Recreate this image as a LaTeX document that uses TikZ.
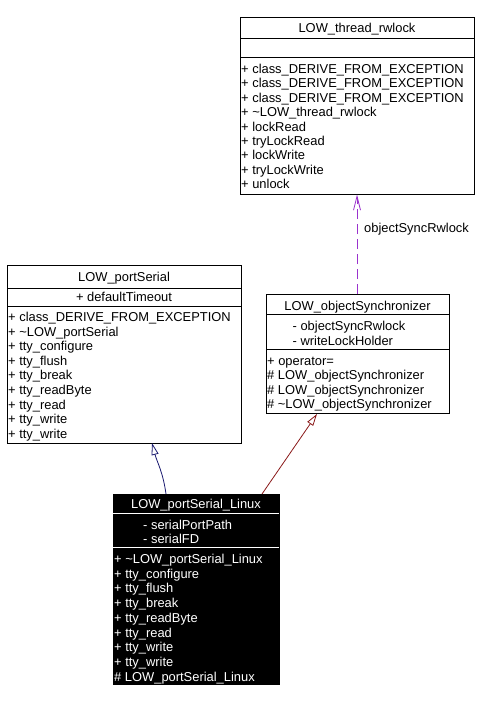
\documentclass[tikz,border=0pt]{standalone}
\usepackage{fontspec}
\setmainfont{Liberation Sans}
\usetikzlibrary{arrows.meta}
\definecolor{midnightblue}{HTML}{191970}
\definecolor{firebrick}{HTML}{8B1A1A}
\definecolor{orchid}{HTML}{9A32CD}
\tikzset{
  x=1pt, y=-1pt,
  classbox/.style={draw=black, line width=1pt, fill=white, inner sep=0pt, anchor=north west},
  darkbox/.style={draw=black, line width=1pt, fill=black, inner sep=0pt, anchor=north west},
  txt/.style={inner sep=0pt, font=\fontsize{12.9}{14.5}\selectfont, anchor=base west},
  ctxt/.style={inner sep=0pt, font=\fontsize{12.9}{14.5}\selectfont, anchor=base},
  wtxt/.style={txt, text=white},
  wctxt/.style={ctxt, text=white},
  sep/.style={line width=1pt},
  wsep/.style={line width=1pt, draw=white},
  inh/.style={line width=0.8pt, -{Triangle[open, length=12pt, width=7pt]}},
  use/.style={line width=0.8pt, dash pattern=on 10pt off 5pt, draw=orchid, -{Straight Barb[length=14pt, width=7pt]}},
}
\begin{document}
\begin{tikzpicture}
\useasboundingbox[fill=white] (0,0) rectangle (484,702);

% ---------- LOW_thread_rwlock ----------
\node[classbox, minimum width=234pt, minimum height=177pt] (rw) at (240,17) {};
\draw[sep] (240,38) -- (474,38);
\draw[sep] (240,57) -- (474,57);
\node[ctxt] (rwt) at (357,32) {LOW\_thread\_rwlock};
\foreach \t [count=\i from 0] in {+ class\_DERIVE\_FROM\_EXCEPTION,+ class\_DERIVE\_FROM\_EXCEPTION,+ class\_DERIVE\_FROM\_EXCEPTION,+ \textasciitilde LOW\_thread\_rwlock,+ lockRead,+ tryLockRead,+ lockWrite,+ tryLockWrite,+ unlock}
  \node[txt] (rwm\i) at (241,73.5+14.4*\i) {\t};

% ---------- LOW_portSerial ----------
\node[classbox, minimum width=234pt, minimum height=178pt] (ps) at (7,265) {};
\draw[sep] (7,288) -- (241,288);
\draw[sep] (7,306) -- (241,306);
\node[ctxt] (pst) at (124,281) {LOW\_portSerial};
\node[ctxt] (psa) at (124,301.5) {+ defaultTimeout};
\foreach \t [count=\i from 0] in {+ class\_DERIVE\_FROM\_EXCEPTION,+ \textasciitilde LOW\_portSerial,+ tty\_configure,+ tty\_flush,+ tty\_break,+ tty\_readByte,+ tty\_read,+ tty\_write,+ tty\_write}
  \node[txt] (psm\i) at (8,321.5+14.6*\i) {\t};

% ---------- LOW_objectSynchronizer ----------
\node[classbox, minimum width=183pt, minimum height=119pt] (os) at (266,294) {};
\draw[sep] (266,314) -- (449,314);
\draw[sep] (266,349) -- (449,349);
\node[ctxt] (ost) at (357.5,310.2) {LOW\_objectSynchronizer};
\node[txt] (osa0) at (292.5,330.5) {- objectSyncRwlock};
\node[txt] (osa1) at (292.5,345.2) {- writeLockHolder};
\foreach \t [count=\i from 0] in {+ operator=,\# LOW\_objectSynchronizer,\# LOW\_objectSynchronizer,\# \textasciitilde LOW\_objectSynchronizer}
  \node[txt] (osm\i) at (267,365.5+14.45*\i) {\t};

% ---------- LOW_portSerial_Linux ----------
\node[darkbox, minimum width=166pt, minimum height=190pt] (lin) at (113,494) {};
\draw[wsep] (113,513) -- (279,513);
\draw[wsep] (113,547) -- (279,547);
\node[wctxt] (lint) at (196,508.5) {LOW\_portSerial\_Linux};
\node[wtxt] (lina0) at (143,529.5) {- serialPortPath};
\node[wtxt] (lina1) at (143,543.5) {- serialFD};
\foreach \t [count=\i from 0] in {+ \textasciitilde LOW\_portSerial\_Linux,+ tty\_configure,+ tty\_flush,+ tty\_break,+ tty\_readByte,+ tty\_read,+ tty\_write,+ tty\_write,\# LOW\_portSerial\_Linux}
  \node[wtxt] (linm\i) at (114,563.5+14.7*\i) {\t};

% ---------- connectors ----------
\coordinate (linA) at (166,494);
\coordinate (psB) at (152,443);
\coordinate (linC) at (262,494);
\coordinate (osB) at (317,414);
\coordinate (osT) at (357,294);
\coordinate (rwB) at (357,194.5);
\draw[inh, draw=midnightblue] (linA) .. controls (163,472) and (157,462) .. (psB);
\draw[inh, draw=firebrick] (linC) -- (osB);
\draw[use] (osT) -- (rwB);
\node[txt, anchor=west] (lbl) at (364,229) {objectSyncRwlock};
\end{tikzpicture}
\end{document}
